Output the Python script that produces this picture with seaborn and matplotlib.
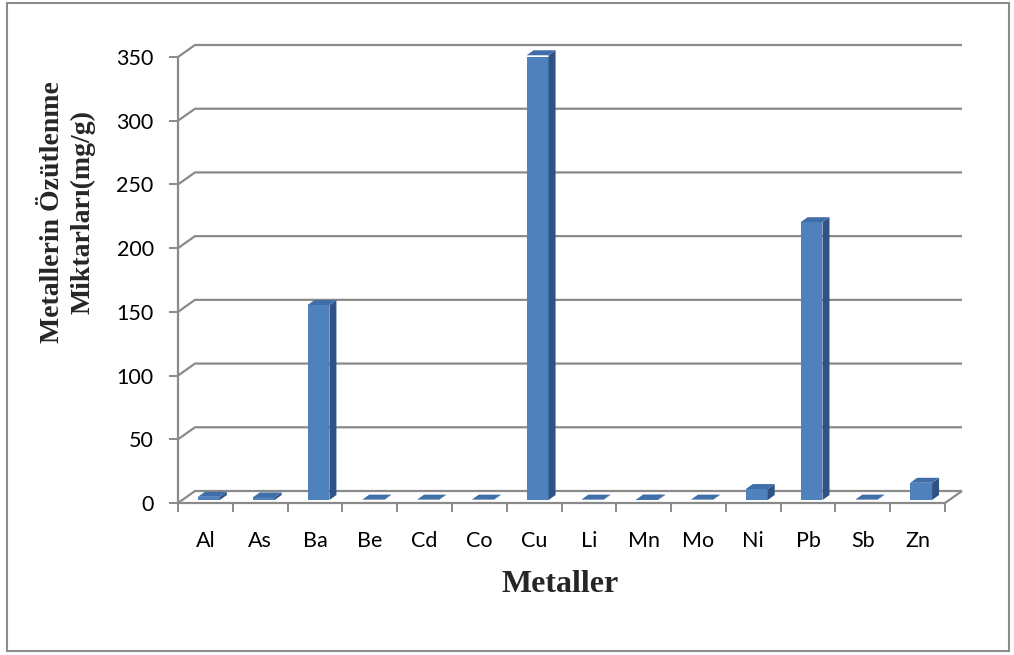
import matplotlib
matplotlib.use("Agg")
import matplotlib.pyplot as plt
from matplotlib.patches import Polygon, Rectangle
from matplotlib.lines import Line2D
import seaborn as sns
import pandas as pd

# Extracted metal amounts (mg/g)
metals = ["Al", "As", "Ba", "Be", "Cd", "Co", "Cu", "Li", "Mn", "Mo", "Ni", "Pb", "Sb", "Zn"]
amounts = [2.5, 2.0, 153, 0.3, 0.3, 0.3, 349, 0.3, 0.4, 0.3, 8.6, 218, 0.3, 13.5]
y_ticks = [0, 50, 100, 150, 200, 250, 300, 350]

FRONT = "#4F81BD"
TOP = "#3F6EA8"
SIDE = "#2F5385"
GRID = "#8A8A8A"

sns.set_theme(style="white")
plt.rcParams["font.family"] = ["Lato", "DejaVu Sans"]

W, H = 1014, 655
fig = plt.figure(figsize=(W / 100, H / 100), dpi=100)
ax = fig.add_axes([178 / W, 152 / H, 767 / W, 446 / H])

df = pd.DataFrame({"Metal": metals, "Amount": amounts})
sns.barplot(data=df, x="Metal", y="Amount", color=FRONT, saturation=1,
            width=0.4, errorbar=None, ax=ax, zorder=4, linewidth=0)

n = len(metals)
ax.set_xlim(-0.5, n - 0.5)
ax.set_ylim(0, y_ticks[-1])
ax.set_xlabel("")
ax.set_ylabel("")

# pixel -> data unit conversion for the pseudo-3D depth
sx = ax.bbox.width / n
sy = ax.bbox.height / y_ticks[-1]
ddx, ddy = 17 / sx, 12 / sy          # full wall depth
fx, fy = 3.5 / sx, 3 / sy            # bar front face offset
bx, by = 7 / sx, 5 / sy              # bar depth

x0, x1 = -0.5, n - 0.5
line_kw = dict(color=GRID, lw=1.6, clip_on=False, zorder=1, solid_capstyle="butt")

# back wall gridlines with the left-wall diagonals
for v in y_ticks:
    ax.add_line(Line2D([x0, x0 + ddx, x1 + ddx], [v, v + ddy, v + ddy], **line_kw))
# floor right edge
ax.add_line(Line2D([x1, x1 + ddx], [0, ddy], **line_kw))

# bars: shift the front faces and add side and top faces
for p in list(ax.patches):
    bx0 = p.get_x() + fx
    w = p.get_width()
    h = p.get_height()
    p.set_x(bx0)
    p.set_y(fy)
    top = h + fy
    side = Polygon([(bx0 + w, fy), (bx0 + w + bx, fy + by),
                    (bx0 + w + bx, top + by), (bx0 + w, top)],
                   closed=True, fc=SIDE, ec="none", zorder=4, clip_on=False)
    cap = Polygon([(bx0, top), (bx0 + bx, top + by),
                   (bx0 + w + bx, top + by), (bx0 + w, top)],
                  closed=True, fc=TOP, ec="none", zorder=4, clip_on=False)
    ax.add_patch(side)
    ax.add_patch(cap)

# axes lines
for s in ["top", "right"]:
    ax.spines[s].set_visible(False)
for s in ["left", "bottom"]:
    ax.spines[s].set_color(GRID)
    ax.spines[s].set_linewidth(1.6)
    ax.spines[s].set_zorder(2)

ax.set_yticks(y_ticks)
ax.set_yticklabels([str(v) for v in y_ticks])
ax.set_xticks(range(n))
ax.set_xticklabels(metals)
ax.set_xticks([i - 0.5 for i in range(n + 1)], minor=True)
ax.tick_params(axis="y", which="major", direction="out", length=6.5, width=1.4,
               color=GRID, pad=11, labelsize=15.5, labelcolor="black", left=True)
ax.tick_params(axis="x", which="major", length=0, pad=20, labelsize=15.5,
               labelcolor="black")
ax.tick_params(axis="x", which="minor", direction="out", length=6.5, width=1.4,
               color=GRID, bottom=True)
ax.grid(False)

# axis titles
serif = ["Liberation Serif", "DejaVu Serif"]
fig.text(68 / W, 1 - 212 / H, "Metallerin Özütlenme\nMiktarları(mg/g)",
         rotation=90, ha="center", va="center", multialignment="center",
         fontsize=20, fontweight="bold", family=serif, linespacing=1.3)
fig.text(560 / W, 1 - 592 / H, "Metaller", ha="center", va="baseline",
         fontsize=23, fontweight="bold", family=serif)

# chart border
fig.add_artist(Rectangle((7 / W, 4 / H), 1002 / W, 648 / H, transform=fig.transFigure,
                         fill=False, ec="#8C8C8C", lw=1.5))

fig.savefig("out.png", dpi=100)
